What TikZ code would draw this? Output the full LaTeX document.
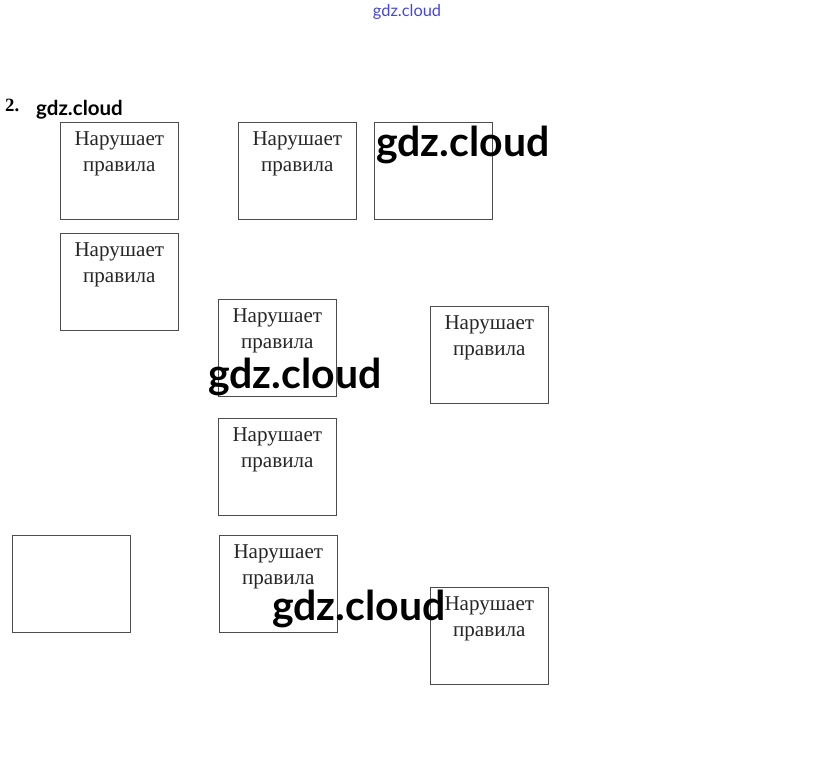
\documentclass[tikz,border=0pt]{standalone}
\usepackage{fontspec}
\setmainfont{Liberation Serif}
\newfontfamily\wmfont{Lato}
\usepackage{xcolor}

\begin{document}
\begin{tikzpicture}[
  x=0.03cm, y=-0.03cm,
  rulebox/.style={draw=black!70, line width=0.5pt, anchor=north west,
                  minimum width=3.54cm, minimum height=2.91cm, inner sep=0pt},
  ruletext/.style={anchor=north, align=center, inner sep=8pt,
                   font=\fontsize{18}{22}\selectfont, text=black!85},
  wmark/.style={anchor=base west, inner sep=0pt, text=black,
                font=\wmfont\bfseries\fontsize{35}{35}\selectfont}
]
  \useasboundingbox (0,0) rectangle (815,778);

  % top line and task number
  \node[anchor=base, inner sep=0pt, text={rgb,255:red,70;green,70;blue,215},
        font=\wmfont\fontsize{14}{14}\selectfont] (top) at (407,16) {gdz.cloud};
  \node[anchor=base west, inner sep=0pt,
        font=\bfseries\fontsize{16}{16}\selectfont] (num) at (5,111) {2.};
  \node[wmark, font=\wmfont\bfseries\fontsize{17.5}{17.5}\selectfont]
    (w0) at (36,115) {gdz.cloud};

  % boxes
  \node[rulebox] (b1) at (60,122) {};
  \node[rulebox] (b2) at (238,122) {};
  \node[rulebox] (b3) at (374,122) {};
  \node[rulebox] (b4) at (60,233) {};
  \node[rulebox] (b5) at (218,299) {};
  \node[rulebox] (b6) at (430,306) {};
  \node[rulebox] (b7) at (218,418) {};
  \node[rulebox] (b8) at (12,535) {};
  \node[rulebox] (b9) at (219,535) {};
  \node[rulebox] (b10) at (430,587) {};

  % texts in the boxes
  \node[ruletext] (t1) at (b1.north) {Нарушает\\правила};
  \node[ruletext] (t2) at (b2.north) {Нарушает\\правила};
  \node[ruletext] (t4) at (b4.north) {Нарушает\\правила};
  \node[ruletext] (t5) at (b5.north) {Нарушает\\правила};
  \node[ruletext] (t6) at (b6.north) {Нарушает\\правила};
  \node[ruletext] (t7) at (b7.north) {Нарушает\\правила};
  \node[ruletext] (t9) at (b9.north) {Нарушает\\правила};
  \node[ruletext] (t10) at (b10.north) {Нарушает\\правила};

  % watermarks
  \node[wmark] (w1) at (376,156) {gdz.cloud};
  \node[wmark] (w2) at (208,388) {gdz.cloud};
  \node[wmark] (w3) at (272,620) {gdz.cloud};
\end{tikzpicture}
\end{document}
